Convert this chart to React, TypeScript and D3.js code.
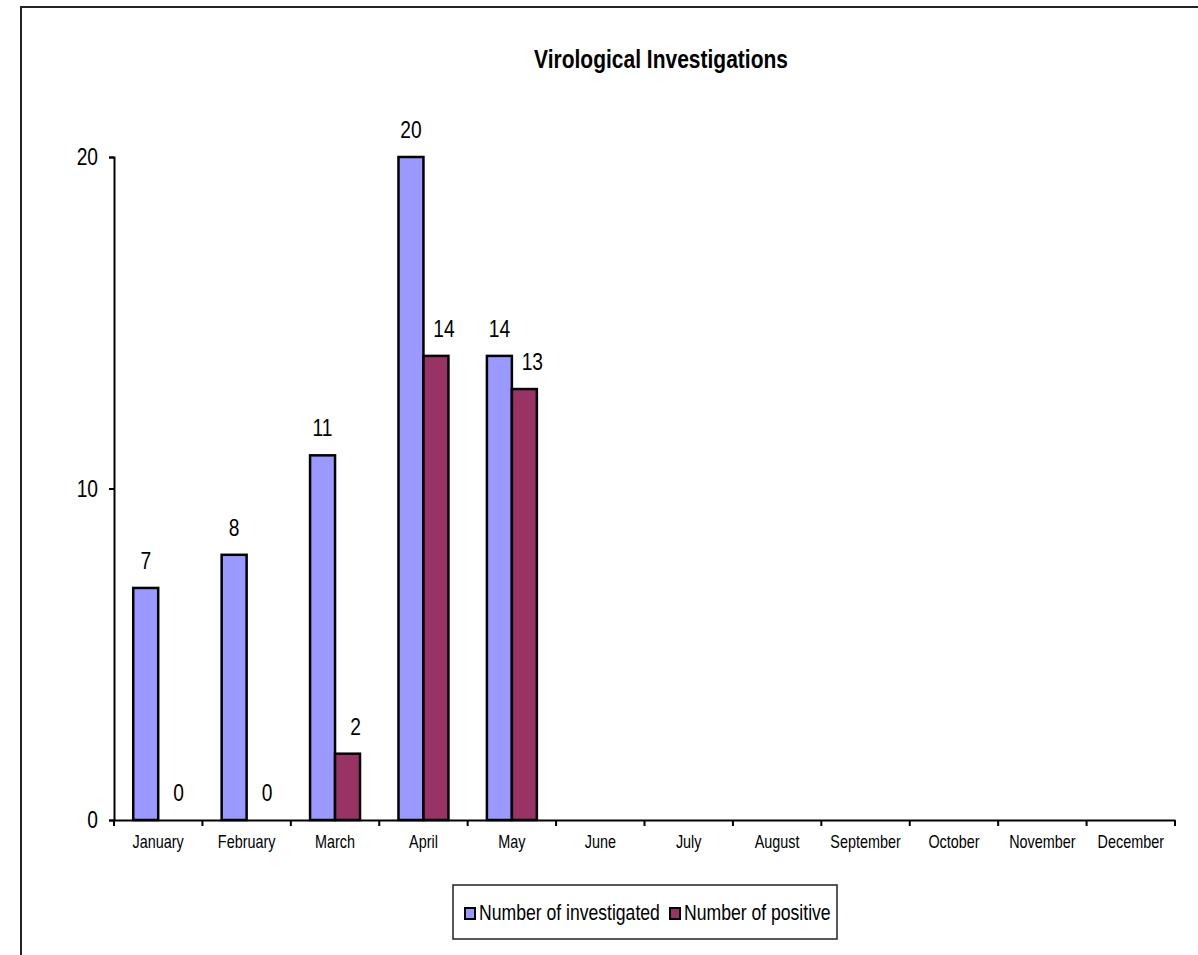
import { useEffect, useRef } from 'react';
import * as d3 from 'd3';

const MONTHS = [
  'January', 'February', 'March', 'April', 'May', 'June',
  'July', 'August', 'September', 'October', 'November', 'December',
];
const INVESTIGATED: (number | null)[] = [7, 8, 11, 20, 14, null, null, null, null, null, null, null];
const POSITIVE: (number | null)[] = [0, 0, 2, 14, 13, null, null, null, null, null, null, null];
const SERIES_NAMES = ['Number of investigated', 'Number of positive'];
const SERIES_COLORS = ['#9999ff', '#993366'];
const Y_TICKS = [0, 10, 20];

const WIDTH = 1198;
const HEIGHT = 955;
// no narrow font installed, so the sans is squeezed horizontally
const FONT = '"Liberation Sans", Arial, sans-serif';
const NARROW = 0.8;
const PLOT = { left: 114, right: 1175, top: 157, bottom: 820 };
// value labels of the second series sit a little right of their bar
const LABEL_SHIFT = [0, 8];

export default function App() {
  const svgRef = useRef<SVGSVGElement>(null);

  useEffect(() => {
    if (!svgRef.current) return;
    const svg = d3.select(svgRef.current);
    svg.selectAll('*').remove();

    const label = (
      parent: any,
      x: number,
      y: number,
      text: string,
      size: number,
      anchor = 'middle',
      weight = 'normal',
      sx = NARROW,
    ) =>
      parent
        .append('text')
        .attr('transform', `translate(${x},${y}) scale(${sx},1)`)
        .attr('text-anchor', anchor)
        .attr('font-family', FONT)
        .attr('font-size', `${size}px`)
        .attr('font-weight', weight)
        .attr('fill', '#000')
        .text(text);

    // outer frame
    svg
      .append('rect')
      .attr('x', 21)
      .attr('y', 7)
      .attr('width', WIDTH + 20)
      .attr('height', HEIGHT + 20)
      .attr('fill', '#ffffff')
      .attr('stroke', '#222')
      .attr('stroke-width', 2);

    label(svg, 661, 68, 'Virological Investigations', 25, 'middle', 'bold', 0.84);

    const x = d3.scaleBand().domain(MONTHS).range([PLOT.left, PLOT.right]);
    const xSub = d3
      .scaleBand()
      .domain(['0', '1'])
      .range([0, x.bandwidth()])
      .paddingInner(0)
      .paddingOuter(0.77);
    const y = d3.scaleLinear().domain([0, 20]).range([PLOT.bottom, PLOT.top]);

    const g = svg.append('g');

    // bars + value labels
    [INVESTIGATED, POSITIVE].forEach((values, si) => {
      values.forEach((v, i) => {
        if (v == null) return;
        const bx = (x(MONTHS[i]) ?? 0) + (xSub(String(si)) ?? 0);
        const bw = xSub.bandwidth();
        if (v > 0) {
          g.append('rect')
            .attr('x', bx)
            .attr('y', y(v))
            .attr('width', bw)
            .attr('height', y(0) - y(v))
            .attr('fill', SERIES_COLORS[si])
            .attr('stroke', '#000')
            .attr('stroke-width', 2.5);
        }
        label(g, bx + bw / 2 + LABEL_SHIFT[si], y(v) - 19, String(v), 24);
      });
    });

    // y axis
    const yAxis = d3.axisLeft(y).tickValues(Y_TICKS).tickSize(5).tickFormat(d3.format('d'));
    const yg = svg.append('g').attr('transform', `translate(${PLOT.left},0)`).call(yAxis);
    yg.select('.domain').attr('stroke', '#000').attr('stroke-width', 2);
    yg.selectAll('.tick line').attr('stroke', '#000').attr('stroke-width', 2);
    yg.selectAll('.tick text')
      .attr('x', -16 / NARROW)
      .attr('transform', `scale(${NARROW},1)`)
      .attr('font-family', FONT)
      .attr('font-size', '24px')
      .attr('fill', '#000');

    // x axis
    const xAxis = d3.axisBottom(x).tickSize(0).tickPadding(15);
    const xg = svg.append('g').attr('transform', `translate(0,${PLOT.bottom})`).call(xAxis);
    xg.select('.domain').attr('stroke', '#000').attr('stroke-width', 2);
    xg.selectAll('.tick text')
      .attr('transform', `scale(${NARROW},1)`)
      .attr('font-family', FONT)
      .attr('font-size', '18px')
      .attr('fill', '#000');
    const boundaries = MONTHS.map(m => x(m) ?? 0).concat([PLOT.right]);
    xg.selectAll('.sep')
      .data(boundaries)
      .enter()
      .append('line')
      .attr('x1', (d: number) => d)
      .attr('x2', (d: number) => d)
      .attr('y1', 0)
      .attr('y2', 6)
      .attr('stroke', '#000')
      .attr('stroke-width', 2);

    // legend
    const legend = svg.append('g').attr('transform', 'translate(453,885)');
    legend
      .append('rect')
      .attr('width', 384)
      .attr('height', 54)
      .attr('fill', '#fff')
      .attr('stroke', '#222')
      .attr('stroke-width', 1.5);
    const itemX = [12, 217];
    SERIES_NAMES.forEach((name, i) => {
      legend
        .append('rect')
        .attr('x', itemX[i])
        .attr('y', 23)
        .attr('width', 10)
        .attr('height', 11)
        .attr('fill', SERIES_COLORS[i])
        .attr('stroke', '#000')
        .attr('stroke-width', 2);
      label(legend, itemX[i] + 14, 35, name, 22, 'start');
    });
  }, []);

  return (
    <svg
      ref={svgRef}
      width={WIDTH}
      height={HEIGHT}
      style={{ position: 'absolute', left: 0, top: 0, display: 'block', background: '#fff' }}
    />
  );
}
